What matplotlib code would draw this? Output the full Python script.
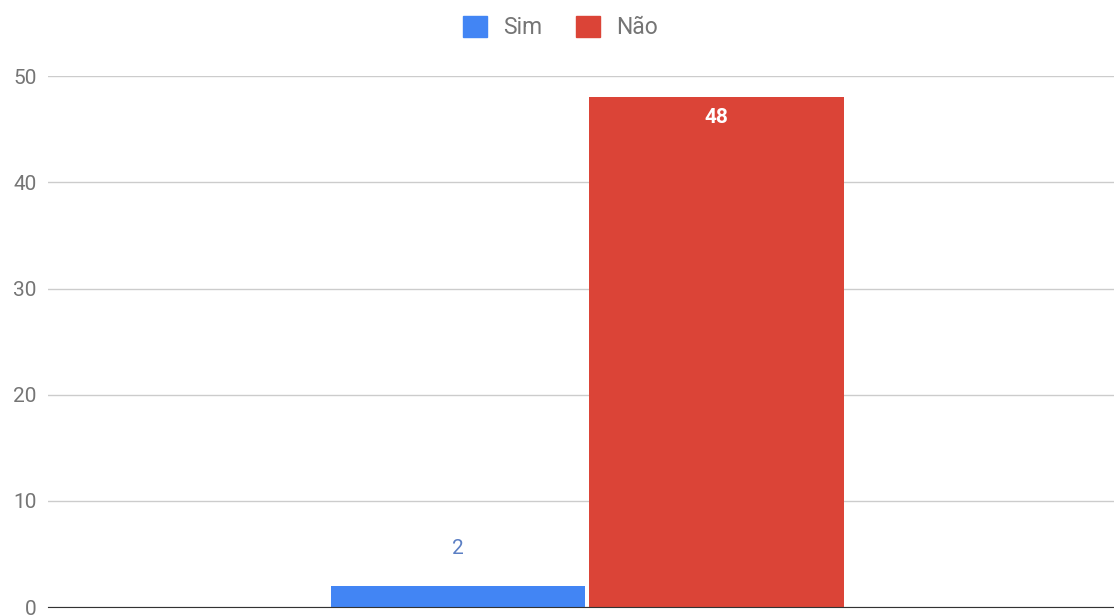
import numpy as np
import matplotlib.pyplot as plt
from matplotlib.patches import Patch

plt.rcParams['font.family'] = ['Roboto', 'DejaVu Sans']

# dados
series = ['Sim', 'Não']
values = [2, 48]
colors = ['#4285f4', '#db4437']
yticks = [0, 10, 20, 30, 40, 50]

fig = plt.figure(figsize=(11.14, 6.15), dpi=100)
ax = fig.add_axes([0.043, 0.013, 0.957, 0.863])

x = np.array([-0.5, 0.5])
bars = ax.bar(x, values, width=0.985, color=colors, zorder=3)

ax.set_xlim(-2.09, 2.04)
ax.set_ylim(0, 50)
ax.set_yticks(yticks)
ax.set_xticks([])
ax.grid(axis='y', color='#cccccc', linewidth=1, zorder=0)
for s in ['top', 'right', 'left']:
    ax.spines[s].set_visible(False)
ax.spines['bottom'].set_color('#333333')
ax.spines['bottom'].set_zorder(4)
ax.tick_params(axis='y', length=0, pad=8, labelsize=15, labelcolor='#757575')

# rótulos
ax.text(x[0], values[0] + 3.5, str(values[0]), ha='center', va='center',
        color='#5b7fc4', fontsize=15)
ax.text(x[1], values[1] - 1.9, str(values[1]), ha='center', va='center',
        color='white', fontsize=15, fontweight='bold')

handles = [Patch(color=c, label=s) for c, s in zip(colors, series)]
fig.legend(handles=handles, loc='center', bbox_to_anchor=(0.503, 0.955),
           ncol=2, frameon=False, fontsize=16.5, labelcolor='#757575',
           handlelength=1.05, handleheight=1.0, columnspacing=1.5, handletextpad=0.7)

plt.savefig('out.png')
